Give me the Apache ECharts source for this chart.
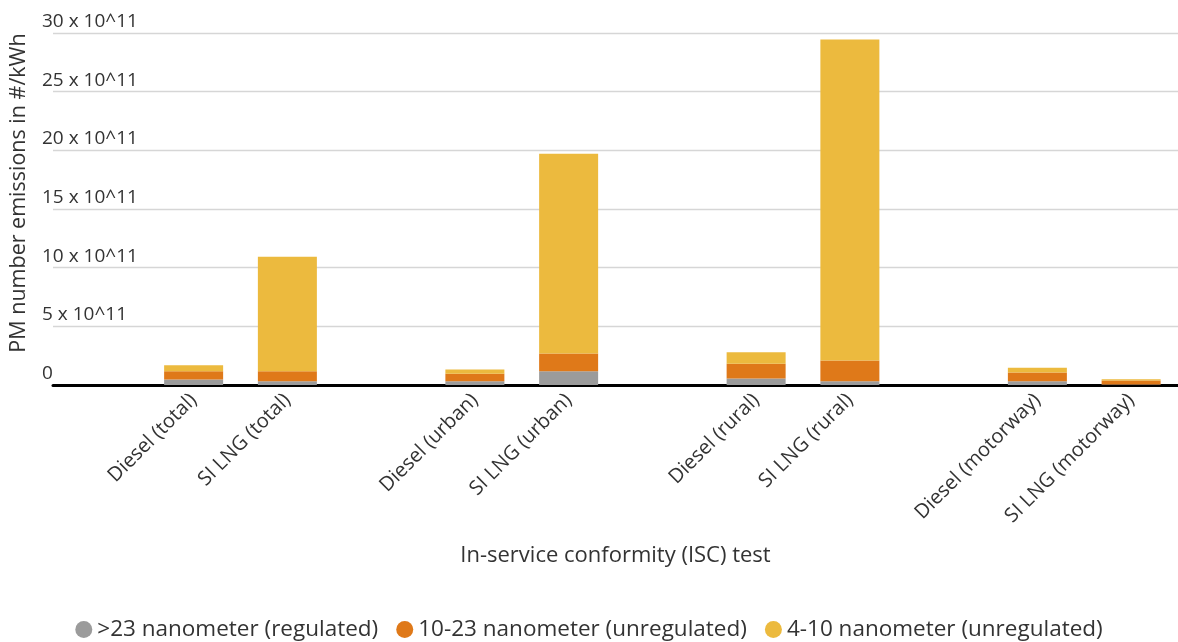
<!DOCTYPE html>
<html>
<head>
<meta charset="utf-8">
<script src="https://cdn.jsdelivr.net/npm/echarts@6/dist/echarts.min.js"></script>
<style>
html,body{margin:0;padding:0;background:#fff;}
#chart{width:1178px;height:642px;}
</style>
</head>
<body>
<div id="chart"></div>
<script>
// Units: 10^11 particles per kWh
const categories = ['', 'Diesel (total)', 'SI LNG (total)', '', 'Diesel (urban)', 'SI LNG (urban)', '', 'Diesel (rural)', 'SI LNG (rural)', '', 'Diesel (motorway)', 'SI LNG (motorway)'];
const regulated23 = [null, 0.47, 0.32, null, 0.32, 1.18, null, 0.55, 0.32, null, 0.32, 0.05];
const unreg10to23 = [null, 0.71, 0.86, null, 0.63, 1.51, null, 1.26, 1.77, null, 0.75, 0.33];
const unreg4to10 = [null, 0.51, 9.75, null, 0.37, 17.02, null, 0.99, 27.36, null, 0.40, 0.11];
const yTickLabels = ['0', '5 x 10^11', '10 x 10^11', '15 x 10^11', '20 x 10^11', '25 x 10^11', '30 x 10^11'];
const seriesNames = ['>23 nanometer (regulated)', '10-23 nanometer (unregulated)', '4-10 nanometer (unregulated)'];
const colors = ['#9b9b9b', '#df7919', '#ecba3e'];

const FONT = 'Open Sans';
const TXT = '#333';
const chart = echarts.init(document.getElementById('chart'));
const mk = (name, data, color) => ({
  name, type: 'bar', stack: 'pm', data, barWidth: 59,
  itemStyle: { color }, emphasis: { disabled: true }
});
chart.setOption({
  animation: false,
  textStyle: { fontFamily: FONT },
  color: colors,
  grid: { left: 47, right: 0, top: 33, height: 352, containLabel: false },
  legend: {
    top: 613, left: 'center', icon: 'circle', itemWidth: 17, itemHeight: 17, itemGap: 18,
    textStyle: { fontFamily: FONT, fontSize: 22.5, color: TXT },
    data: seriesNames
  },
  xAxis: {
    type: 'category', data: categories,
    axisLine: { lineStyle: { color: '#000', width: 3 } },
    axisTick: { show: false },
    axisLabel: { interval: 0, rotate: 45, margin: 12, fontSize: 20, color: TXT, fontFamily: FONT },
    name: 'In-service conformity (ISC) test', nameLocation: 'middle', nameGap: 160,
    nameTextStyle: { fontSize: 22, color: TXT, fontFamily: FONT }
  },
  yAxis: {
    type: 'value', min: 0, max: 30, interval: 5,
    axisLine: { show: false }, axisTick: { show: false },
    splitLine: { lineStyle: { color: '#d6d6d6', width: 1.3 } },
    axisLabel: {
      inside: true, margin: -11, verticalAlign: 'bottom', align: 'left',
      padding: [0, 0, 2, 0], fontSize: 19, color: TXT, fontFamily: FONT,
      formatter: (v) => yTickLabels[Math.round(v / 5)]
    },
    name: 'PM number emissions in #/kWh', nameLocation: 'middle', nameRotate: 90, nameGap: 23,
    nameTextStyle: { fontSize: 21.5, color: TXT, fontFamily: FONT, padding: [0, 0, 0, 32] }
  },
  series: [
    mk(seriesNames[0], regulated23, colors[0]),
    mk(seriesNames[1], unreg10to23, colors[1]),
    mk(seriesNames[2], unreg4to10, colors[2])
  ]
});
</script>
</body>
</html>
